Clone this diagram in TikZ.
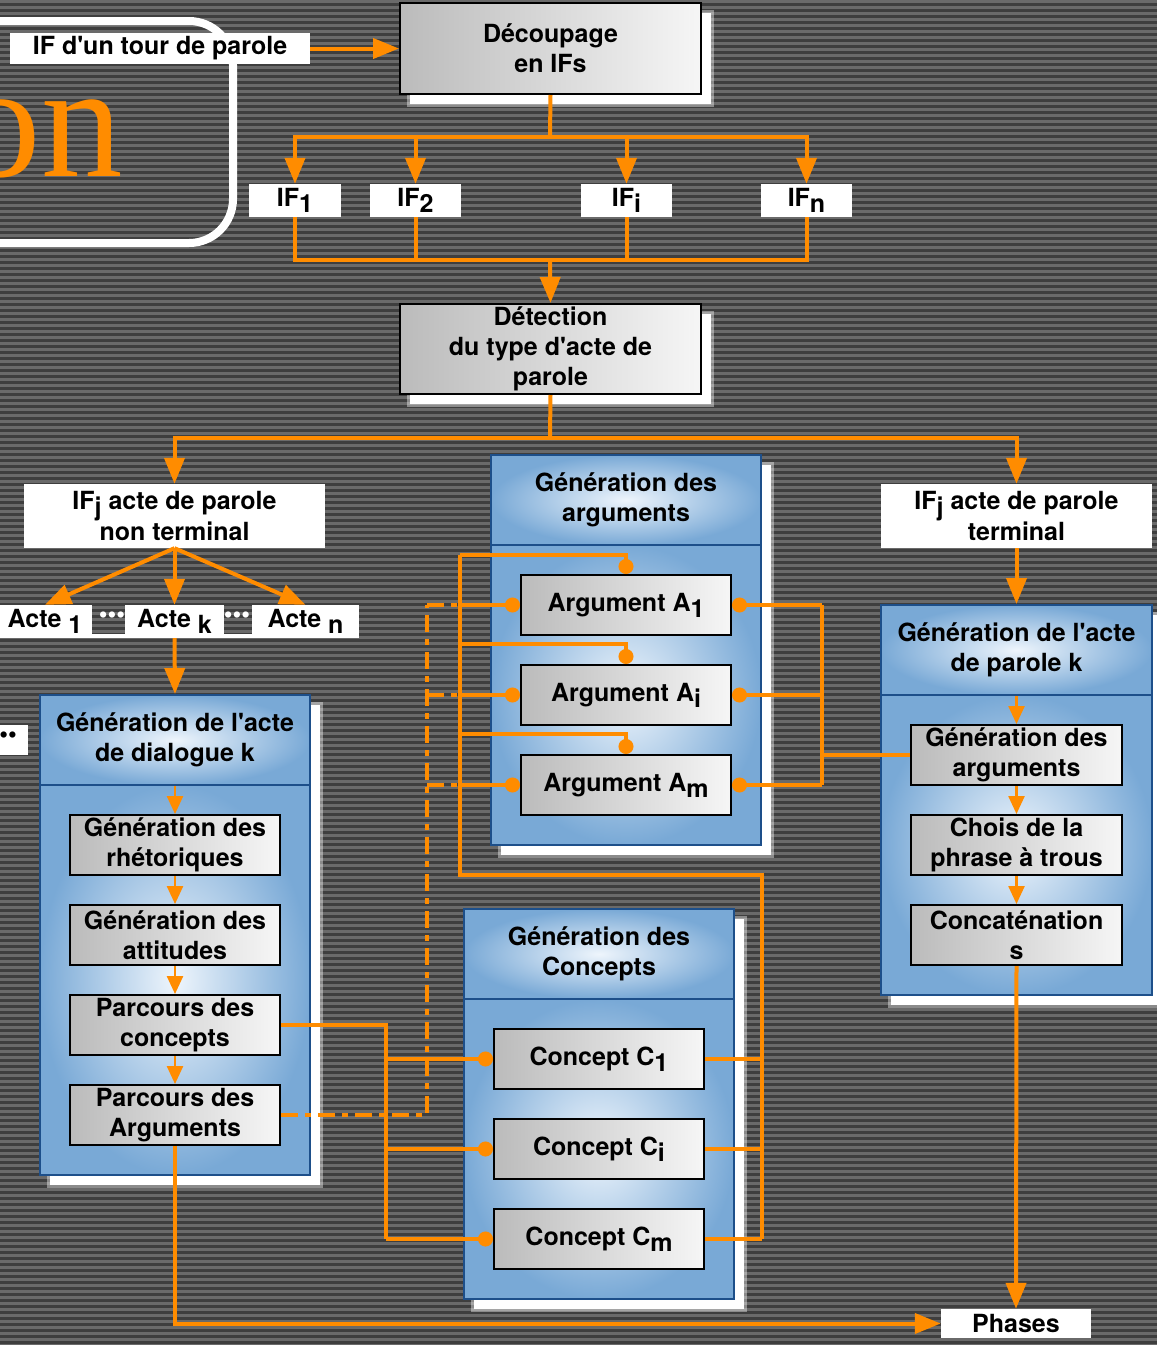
\documentclass[tikz,border=0pt]{standalone}
\usepackage{fontspec}
\setmainfont{TeX Gyre Heros}
\newfontfamily\onfont{Liberation Serif}
\usetikzlibrary{arrows.meta,calc}
\definecolor{orC}{HTML}{FF8C00}
\definecolor{stD}{HTML}{3E3E3E}
\definecolor{stL}{HTML}{6A6A6A}
\definecolor{gL}{HTML}{BBBBBB}
\definecolor{gR}{HTML}{F6F6F6}
\definecolor{bO}{HTML}{79A9D6}
\definecolor{bI}{HTML}{EEF5FC}
\definecolor{bB}{HTML}{1D4F8A}
\newcommand\dn[1]{\raisebox{-0.24em}{#1}}
\newcommand\q{\textquotesingle}
\newcommand\wshd[4]{%
  \fill[white,opacity=0.4] (#1+7,#2+7) rectangle (#3+13,#4+13);
  \fill[white] (#1+10,#2+10) rectangle (#3+10,#4+10);}
\begin{document}
\begin{tikzpicture}[x=1pt,y=-1pt,
  txt/.style={font=\fontsize{25}{30}\selectfont\bfseries, align=center, inner sep=0pt, text=black},
  wbox/.style={txt, fill=white},
  gbox/.style={txt, draw=black, line width=2pt, left color=gL, right color=gR, minimum width=210pt, minimum height=60pt},
  bigbox/.style={txt, draw=black, line width=2pt, left color=gL, right color=gR, minimum width=301pt},
  hdr/.style={txt, draw=bB, line width=2pt, inner color=bI, outer color=bO, minimum width=270pt, minimum height=90pt},
  bdy/.style={draw=bB, line width=2pt, inner color=bI, outer color=bO, minimum width=270pt, minimum height=300pt, inner sep=0pt},
  ol/.style={draw=orC, line width=4pt},
  big/.style={draw=orC, line width=4pt, -{Triangle[length=26pt,width=20pt]}},
  sm/.style={draw=orC, line width=2.5pt, -{Triangle[length=18pt,width=16pt]}},
  cl/.style={draw=orC, line width=3.5pt},
  dd/.style={draw=orC, line width=3.5pt, dash pattern=on 17pt off 7pt on 6pt off 7pt}
]
\clip (0,0) rectangle (1157,1345);
\useasboundingbox (0,0) rectangle (1157,1345);
% background stripes
\fill[stD] (0,0) rectangle (1157,1345);
\foreach \i in {0,...,224} {\fill[stL] (0,{6*\i}) rectangle (1157,{6*\i+3});}

% rounded frame with partial word
\draw[white, line width=8pt, rounded corners=44pt] (-80,21) rectangle (233,243);
\node[text=orC, font=\onfont\fontsize{163}{163}\selectfont, anchor=base east, inner sep=0pt] (onword) at (123,176) {on};

% shadows
\wshd{400}{3}{701}{94}
\wshd{400}{304}{701}{394}
\wshd{40}{695}{310}{1175}
\wshd{491}{455}{761}{845}
\wshd{464}{909}{734}{1299}
\wshd{881}{605}{1152}{995}

% top part
\node[wbox, minimum width=300pt, minimum height=31pt] (iftour) at (160,48.5) {IF d\q un tour de parole};
\node[bigbox, minimum height=91pt] (dec) at (550.5,48.5) {Découpage\\en IFs};
\node[wbox, minimum width=92pt, minimum height=33pt] (if1) at (295,200.5) {IF\dn{1}};
\node[wbox, minimum width=91pt, minimum height=33pt] (if2) at (415.5,200.5) {IF\dn{2}};
\node[wbox, minimum width=91pt, minimum height=33pt] (ifi) at (626.5,200.5) {IF\dn{i}};
\node[wbox, minimum width=91pt, minimum height=33pt] (ifn) at (806.5,200.5) {IF\dn{n}};
\node[bigbox, minimum height=90pt] (det) at (550.5,349) {Détection\\du type d\q acte de\\parole};
\node[wbox, minimum width=301pt, minimum height=64pt] (nt) at (174.5,516) {IF\dn{j} acte de parole\\non terminal};
\node[wbox, minimum width=271pt, minimum height=64pt] (term) at (1016.5,516) {IF\dn{j} acte de parole\\terminal};

% actes
\node[wbox, minimum width=94pt, minimum height=33pt] (act1) at (45,621.5) {Acte \dn{1}};
\node[wbox, minimum width=99pt, minimum height=33pt] (actk) at (174.5,621.5) {Acte \dn{k}};
\node[wbox, minimum width=107pt, minimum height=33pt] (actn) at (305.5,621.5) {Acte \dn{n}};
\fill[white] (92,634) rectangle (125,638);
\fill[white] (224,634) rectangle (252,638);
\node[txt, text=white] (dots1) at (112,617) {•••};
\node[txt, text=white] (dots2) at (237,617) {•••};
\node[wbox, minimum width=40pt, minimum height=30pt] (ldbox) at (8,740) {};
\node[txt, anchor=east] (ldots) at (17,737) {•••};

% left container
\node[hdr] (lh) at (175,740) {Génération de l\q acte\\de dialogue k};
\node[bdy, minimum height=390pt] (lb) at (175,980) {};
\node[gbox] (r1) at (175,845) {Génération des\\rhétoriques};
\node[gbox] (r2) at (175,935) {Génération des\\attitudes};
\node[gbox] (r3) at (175,1025) {Parcours des\\concepts};
\node[gbox] (r4) at (175,1115) {Parcours des\\Arguments};

% middle container
\node[hdr] (mh) at (626,500) {Génération des\\arguments};
\node[bdy] (mb) at (626,695) {};
\node[gbox] (a1) at (626,605) {Argument A\dn{1}};
\node[gbox] (ai) at (626,695) {Argument A\dn{i}};
\node[gbox] (am) at (626,785) {Argument A\dn{m}};

% concepts container
\node[hdr] (ch) at (599,954) {Génération des\\Concepts};
\node[bdy] (cb) at (599,1149) {};
\node[gbox] (c1) at (599,1059) {Concept C\dn{1}};
\node[gbox] (ci) at (599,1149) {Concept C\dn{i}};
\node[gbox] (cm) at (599,1239) {Concept C\dn{m}};

% right container
\node[hdr, minimum width=271pt] (th) at (1016.5,650) {Génération de l\q acte\\de parole k};
\node[bdy, minimum width=271pt] (tb) at (1016.5,845) {};
\node[gbox, minimum width=211pt] (ga) at (1016.5,755) {Génération des\\arguments};
\node[gbox, minimum width=211pt] (cp) at (1016.5,845) {Chois de la\\phrase à trous};
\node[gbox, minimum width=211pt] (cc) at (1016.5,935) {Concaténation\\s};

\node[wbox, minimum width=150pt, minimum height=29pt] (ph) at (1016,1323.5) {Phases};

% junction coordinates
\coordinate (j1) at (550,137);
\coordinate (j2) at (550,260);
\coordinate (j3) at (550,438);
\coordinate (xBus) at (460,555);
\coordinate (xDash) at (427,605);
\coordinate (xR) at (822,605);
\coordinate (xC) at (762,875);
\coordinate (xP) at (386,1025);

% top connectors
\draw[big] (iftour.east) -- (dec.west);
\draw[ol] (dec.south) -- (j1);
\draw[ol, line cap=rect] (if1.north |- j1) -- (ifn.north |- j1);
\foreach \n in {if1,if2,ifi,ifn} {\draw[big] (\n.north |- j1) -- (\n.north);}
\foreach \n in {if1,if2,ifi,ifn} {\draw[ol] (\n.south) -- (\n.south |- j2);}
\draw[ol, line cap=rect] (if1.south |- j2) -- (ifn.south |- j2);
\draw[big] (j2) -- (det.north);
\draw[ol] (det.south) -- (j3);
\draw[ol, line cap=rect] (nt.north |- j3) -- (term.north |- j3);
\draw[big] (nt.north |- j3) -- (nt.north);
\draw[big] (term.north |- j3) -- (term.north);

% actes
\draw[big] (nt.south) -- (act1.north);
\draw[big] (nt.south) -- (actk.north);
\draw[big] (nt.south) -- (actn.north);
\draw[big] (actk.south) -- (lh.north);

% inner small arrows
\draw[sm] (lh.south) -- (r1.north);
\draw[sm] (r1.south) -- (r2.north);
\draw[sm] (r2.south) -- (r3.north);
\draw[sm] (r3.south) -- (r4.north);
\draw[big] (term.south) -- (th.north);
\draw[sm] (th.south) -- (ga.north);
\draw[sm] (ga.south) -- (cp.north);
\draw[sm] (cp.south) -- (cc.north);

% to phases
\draw[big] (cc.south) -- (ph.north);
\draw[big] (r4.south) |- (ph.west);

% argument bus
\draw[cl] (xBus) -- (xBus |- xC) -- (xC) -- (xC |- cm.east);
\draw[cl, -{Circle[length=15pt]}] (xBus) -| (a1.north);
\draw[cl, -{Circle[length=15pt]}] ($(xBus |- ai.north)+(0,-20)$) -| (ai.north);
\draw[cl, -{Circle[length=15pt]}] ($(xBus |- am.north)+(0,-20)$) -| (am.north);
\foreach \n in {a1,ai,am} {
  \draw[cl, -{Circle[length=15pt]}] (xBus |- \n.west) -- (\n.west);
  \draw[cl, {Circle[length=15pt]}-] (\n.east) -- (xR |- \n.east);
  \draw[dd] (xDash |- \n.west) -- (xBus |- \n.west);
}
\draw[cl] (xR) -- (xR |- am.east);
\draw[cl] (xR |- ga.west) -- (ga.west);
\foreach \n in {c1,ci,cm} {
  \draw[cl] (\n.east) -- (xC |- \n.east);
  \draw[cl, -{Circle[length=15pt]}] (xP |- \n.west) -- (\n.west);
}
\draw[cl] (r3.east) -- (xP) -- (xP |- cm.west);
\draw[dd] (r4.east) -- (xDash |- r4.east) -- (xDash);
\end{tikzpicture}
\end{document}
